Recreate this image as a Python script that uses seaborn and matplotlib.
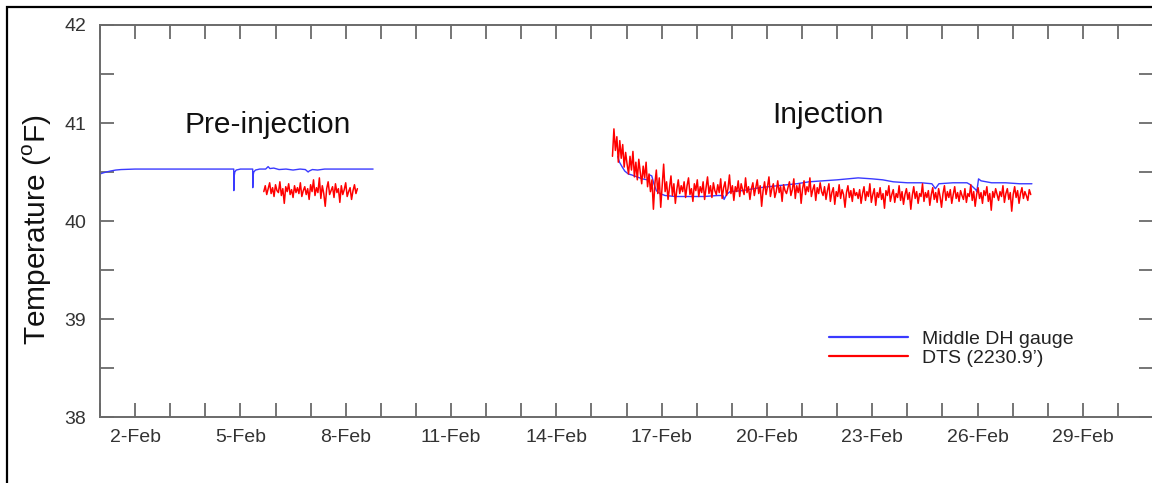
import matplotlib
matplotlib.use("Agg")
import matplotlib.pyplot as plt
import matplotlib.dates as mdates
from matplotlib.lines import Line2D
from matplotlib.patches import Rectangle
import numpy as np
import pandas as pd
import seaborn as sns

# ---------------- data ----------------
# Middle DH gauge, pre-injection (day of Feb 2012, deg F)
gauge_pre_day = [1.00, 1.08, 1.18, 1.30, 1.45, 1.60, 2.0, 2.5, 3.0, 3.5, 4.0, 4.5,
                 4.81, 4.812, 4.82, 4.84, 4.88, 5.0, 5.35, 5.352, 5.36, 5.38, 5.43, 5.55,
                 5.72, 5.79, 5.84, 5.95, 6.1, 6.3, 6.5, 6.7, 6.85, 6.93, 6.96, 7.05,
                 7.2, 7.4, 7.6, 8.0, 8.4, 8.78]
gauge_pre_temp = [40.48, 40.49, 40.50, 40.51, 40.52, 40.525, 40.53, 40.53, 40.53, 40.53, 40.53, 40.53,
                  40.53, 40.31, 40.45, 40.50, 40.52, 40.53, 40.53, 40.34, 40.46, 40.50, 40.52, 40.53,
                  40.53, 40.555, 40.535, 40.54, 40.525, 40.53, 40.52, 40.53, 40.525, 40.50, 40.51, 40.525,
                  40.52, 40.53, 40.53, 40.53, 40.53, 40.53]

# Middle DH gauge, injection period
gauge_inj_day = [15.75, 15.80, 15.88, 15.95, 16.05, 16.15, 16.3, 16.45, 16.6, 16.66,
                 16.72, 16.78, 16.85, 16.95, 17.1, 17.4, 17.8, 18.2, 18.6, 18.75,
                 18.78, 18.85, 18.95, 19.3, 19.8, 20.3, 20.85, 21.2, 21.6, 22.0,
                 22.6, 23.0, 23.3, 23.6, 24.0, 24.4, 24.7, 24.8, 24.9, 25.3,
                 25.7, 25.8, 25.95, 25.98, 26.03, 26.1, 26.4, 26.8, 27.2, 27.55]
gauge_inj_temp = [40.66, 40.60, 40.55, 40.51, 40.48, 40.47, 40.45, 40.43, 40.42, 40.47,
                  40.46, 40.38, 40.31, 40.28, 40.26, 40.25, 40.25, 40.25, 40.26, 40.26,
                  40.22, 40.27, 40.30, 40.31, 40.34, 40.36, 40.38, 40.40, 40.41, 40.42,
                  40.44, 40.43, 40.42, 40.40, 40.39, 40.39, 40.38, 40.33, 40.38, 40.39,
                  40.39, 40.37, 40.32, 40.30, 40.43, 40.41, 40.39, 40.39, 40.38, 40.38]

# DTS trace at 2230.9 ft, hourly readings
dts_pre_start = "2012-02-05 16:00"
dts_pre_temp = [
    40.30, 40.36, 40.27, 40.33, 40.39, 40.28, 40.34, 40.25, 40.37, 40.31, 40.29, 40.40,
    40.26, 40.33, 40.18, 40.35, 40.30, 40.38, 40.27, 40.32, 40.24, 40.36, 40.29, 40.34,
    40.28, 40.39, 40.25, 40.31, 40.35, 40.27, 40.33, 40.22, 40.37, 40.30, 40.42, 40.26,
    40.34, 40.29, 40.44, 40.23, 40.36, 40.28, 40.15, 40.33, 40.40, 40.27, 40.31, 40.35,
    40.24, 40.38, 40.29, 40.33, 40.19, 40.36, 40.27, 40.32, 40.39, 40.25, 40.30, 40.34,
    40.22, 40.31, 40.37, 40.28, 40.33]

dts_inj_start = "2012-02-15 14:24"
dts_inj_temp = [
    40.66, 40.94, 40.72, 40.86, 40.60, 40.82, 40.64, 40.78, 40.55, 40.70, 40.58, 40.48,
    40.66, 40.52, 40.71, 40.45, 40.60, 40.42, 40.63, 40.50, 40.38, 40.56, 40.44, 40.60,
    40.35, 40.48, 40.30, 40.42, 40.12, 40.38, 40.52, 40.28, 40.44, 40.14, 40.36, 40.58,
    40.30, 40.40, 40.22, 40.34, 40.46, 40.26, 40.38, 40.18, 40.32, 40.42, 40.28, 40.36,
    40.30, 40.40, 40.24, 40.36, 40.44, 40.27, 40.33, 40.20, 40.38, 40.31, 40.42, 40.25,
    40.35, 40.29, 40.40, 40.22, 40.34, 40.45, 40.28, 40.36, 40.24, 40.39, 40.31, 40.27,
    40.37, 40.29, 40.43, 40.23, 40.34, 40.40, 40.26, 40.33, 40.47, 40.28, 40.36, 40.21,
    40.35, 40.30, 40.41, 40.25, 40.38, 40.32, 40.27, 40.44, 40.29, 40.35, 40.22, 40.33,
    40.39, 40.26, 40.34, 40.42, 40.28, 40.36, 40.15, 40.31, 40.40, 40.27, 40.35, 40.45,
    40.25, 40.33, 40.38, 40.24, 40.30, 40.41, 40.29, 40.35, 40.20, 40.37, 40.31, 40.28,
    40.34, 40.40, 40.26, 40.32, 40.43, 40.23, 40.36, 40.29, 40.38, 40.18, 40.33, 40.41,
    40.27, 40.35, 40.30, 40.44, 40.25, 40.32, 40.37, 40.21, 40.34, 40.28, 40.39, 40.30,
    40.26, 40.35, 40.22, 40.31, 40.38, 40.20, 40.29, 40.34, 40.17, 40.30, 40.25, 40.37,
    40.23, 40.32, 40.27, 40.14, 40.29, 40.36, 40.24, 40.31, 40.20, 40.33, 40.26, 40.29,
    40.23, 40.32, 40.18, 40.28, 40.35, 40.21, 40.30, 40.25, 40.38, 40.19, 40.27, 40.33,
    40.16, 40.29, 40.24, 40.34, 40.22, 40.28, 40.13, 40.31, 40.26, 40.36, 40.20, 40.27,
    40.32, 40.19, 40.28, 40.24, 40.36, 40.21, 40.30, 40.17, 40.27, 40.33, 40.22, 40.29,
    40.12, 40.26, 40.35, 40.23, 40.30, 40.18, 40.28, 40.25, 40.38, 40.20, 40.29, 40.24,
    40.31, 40.16, 40.27, 40.34, 40.22, 40.29, 40.19, 40.33, 40.25, 40.14, 40.28, 40.36,
    40.21, 40.30, 40.24, 40.32, 40.18, 40.27, 40.35, 40.23, 40.29, 40.20, 40.31, 40.26,
    40.22, 40.33, 40.19, 40.28, 40.25, 40.37, 40.21, 40.30, 40.15, 40.27, 40.34, 40.23,
    40.29, 40.18, 40.31, 40.26, 40.35, 40.20, 40.28, 40.11, 40.30, 40.24, 40.33, 40.27,
    40.21, 40.30, 40.25, 40.36, 40.19, 40.28, 40.33, 40.22, 40.29, 40.10, 40.27, 40.35,
    40.24, 40.31, 40.18, 40.28, 40.34, 40.23, 40.30, 40.26, 40.21, 40.32, 40.27]

series_labels = ["Middle DH gauge", "DTS (2230.9\u2019)"]
phase_labels = ["Pre-injection", "Injection"]
y_ticks = [38, 39, 40, 41, 42]
x_tick_dates = ["2012-02-02", "2012-02-05", "2012-02-08", "2012-02-11", "2012-02-14",
                "2012-02-17", "2012-02-20", "2012-02-23", "2012-02-26", "2012-02-29"]


def feb_days(days):
    return pd.Timestamp("2012-02-01") + pd.to_timedelta(np.asarray(days) - 1.0, unit="D")


gauge_pre = pd.DataFrame({"time": feb_days(gauge_pre_day), "temp": gauge_pre_temp})
gauge_inj = pd.DataFrame({"time": feb_days(gauge_inj_day), "temp": gauge_inj_temp})
dts_pre = pd.DataFrame({"time": pd.date_range(dts_pre_start, periods=len(dts_pre_temp), freq="h"),
                        "temp": dts_pre_temp})
dts_inj = pd.DataFrame({"time": pd.date_range(dts_inj_start, periods=len(dts_inj_temp), freq="h"),
                        "temp": dts_inj_temp})

# ---------------- style ----------------
sns.set_style("white")
plt.rcParams["font.family"] = ["Liberation Sans", "DejaVu Sans"]
plt.rcParams["mathtext.fontset"] = "custom"
plt.rcParams["mathtext.rm"] = "Liberation Sans"

W, H = 1152, 483
fig = plt.figure(figsize=(W / 100, H / 100), dpi=100)
ax = fig.add_axes([100 / W, 66 / H, 1053 / W, 392 / H])

blue = "#3a3aff"
red = "#ff0000"

for df in (gauge_pre, gauge_inj):
    sns.lineplot(data=df, x="time", y="temp", ax=ax, color=blue, lw=1.0,
                 estimator=None, sort=False)
for df in (dts_pre, dts_inj):
    sns.lineplot(data=df, x="time", y="temp", ax=ax, color=red, lw=1.1,
                 estimator=None, sort=False)

ax.set_xlim(pd.Timestamp("2012-02-01"), pd.Timestamp("2012-03-02"))
ax.set_ylim(38, 42)

# axes, ticks
spine_col = "#6a6a6a"
for s in ax.spines.values():
    s.set_color(spine_col)
    s.set_linewidth(1.4)

ax.set_xticks(pd.to_datetime(x_tick_dates))
ax.xaxis.set_minor_locator(mdates.DayLocator())
ax.xaxis.set_major_formatter(mdates.DateFormatter("%-d-%b"))
ax.set_yticks(y_ticks)
ax.set_yticks(np.arange(38.5, 42, 1.0), minor=True)

ax.tick_params(axis="both", which="both", direction="in", length=10, width=1.3,
               color=spine_col, top=True, right=True, bottom=True, left=True)
ax.tick_params(axis="x", which="major", labelsize=14, labelcolor="#333333", pad=9)
ax.tick_params(axis="y", which="major", labelsize=14, labelcolor="#333333", pad=10)

ax.set_xlabel("")
ax.set_ylabel("Temperature ($^{\\mathrm{o}}$F)", fontsize=21.5, color="#111111", va="center")
ax.yaxis.set_label_coords(-0.0598, 0.477)

# phase annotations
ax.text(pd.Timestamp("2012-02-05 18:30"), 40.90, phase_labels[0], fontsize=21.5,
        ha="center", va="baseline", color="#111111")
ax.text(pd.Timestamp("2012-02-21 17:30"), 41.00, phase_labels[1], fontsize=21.5,
        ha="center", va="baseline", color="#111111")

handles = [Line2D([], [], color=blue, lw=1.6), Line2D([], [], color=red, lw=1.6)]
ax.legend(handles, series_labels, loc="center left", bbox_to_anchor=(0.692, 0.175),
          frameon=False, fontsize=14, handlelength=4.07, handletextpad=0.72,
          labelspacing=0.08, borderpad=0, borderaxespad=0, labelcolor="#222222")

# outer frame
fig.patches.append(Rectangle((6.5 / W, -0.1), 1.2, (H - 6.5) / H + 0.1,
                             transform=fig.transFigure, fill=False,
                             edgecolor="black", lw=1.6, clip_on=False))

fig.savefig("out.png", dpi=100)
